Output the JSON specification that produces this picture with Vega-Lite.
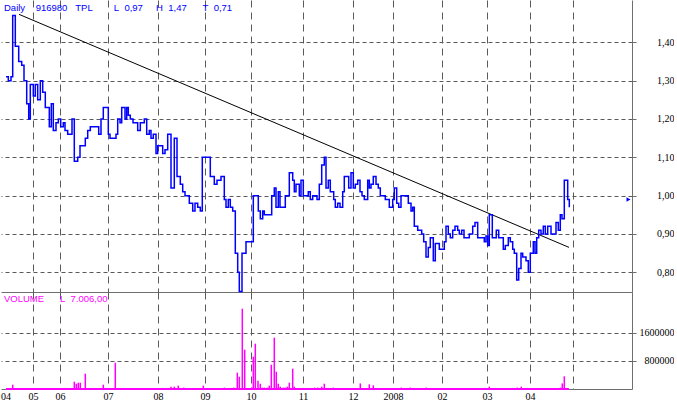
{
  "$schema": "https://vega.github.io/schema/vega-lite/v6.json",
  "padding": 0,
  "background": "white",
  "spacing": 0,
  "bounds": "flush",
  "config": {
    "view": {"stroke": null},
    "font": "Liberation Sans",
    "axis": {
      "labelFont": "Liberation Serif",
      "labelFontSize": 10,
      "labelColor": "black",
      "domainColor": "#6e6e6e",
      "tickColor": "#6e6e6e",
      "gridColor": "#5a5a5a",
      "gridOpacity": 1,
      "title": null,
      "minExtent": 0
    }
  },
  "datasets": {
    "price": [
      {"i":5,"close":1.31},{"i":7.3,"close":1.30},{"i":10,"close":1.31},{"i":11.7,"close":1.47},{"i":14.3,"close":1.39},
      {"i":17.7,"close":1.35},{"i":20.7,"close":1.34},{"i":23,"close":1.30},{"i":25.7,"close":1.24},{"i":27.7,"close":1.20},
      {"i":29.3,"close":1.29},{"i":32.3,"close":1.26},{"i":34.3,"close":1.29},{"i":36.7,"close":1.25},{"i":39.3,"close":1.30},
      {"i":41.7,"close":1.27},{"i":44.3,"close":1.23},{"i":48.3,"close":1.18},{"i":50.3,"close":1.24},{"i":52.3,"close":1.17},
      {"i":55,"close":1.19},{"i":57.3,"close":1.20},{"i":59.7,"close":1.18},{"i":62.3,"close":1.19},{"i":64,"close":1.17},
      {"i":66.7,"close":1.16},{"i":71,"close":1.20},{"i":73.3,"close":1.09},{"i":76.7,"close":1.10},{"i":79,"close":1.13},
      {"i":84.3,"close":1.15},{"i":86.7,"close":1.17},{"i":89.3,"close":1.18},{"i":97.7,"close":1.16},{"i":100,"close":1.20},
      {"i":102.3,"close":1.23},{"i":107.3,"close":1.16},{"i":109,"close":1.15},{"i":115,"close":1.16},{"i":116.7,"close":1.20},
      {"i":119,"close":1.19},{"i":120.7,"close":1.23},{"i":124,"close":1.20},{"i":125.7,"close":1.23},{"i":127.3,"close":1.21},
      {"i":129.3,"close":1.20},{"i":132,"close":1.19},{"i":136.7,"close":1.17},{"i":139.3,"close":1.19},{"i":143.3,"close":1.20},
      {"i":145.7,"close":1.16},{"i":148.3,"close":1.17},{"i":150,"close":1.15},{"i":152.3,"close":1.16},{"i":155,"close":1.11},
      {"i":156.7,"close":1.13},{"i":161.7,"close":1.11},{"i":164,"close":1.12},{"i":166.7,"close":1.16},{"i":170,"close":1.02},
      {"i":173.3,"close":1.15},{"i":176,"close":1.05},{"i":179.3,"close":1.03},{"i":181.7,"close":1.01},{"i":184,"close":1.00},
      {"i":188.3,"close":0.98},{"i":191.7,"close":0.96},{"i":194,"close":0.98},{"i":196.7,"close":0.97},{"i":199.3,"close":0.96},
      {"i":201.3,"close":1.10},{"i":209.3,"close":1.05},{"i":213.3,"close":1.03},{"i":216,"close":1.04},{"i":220,"close":1.05},
      {"i":223.3,"close":0.99},{"i":225,"close":0.97},{"i":227.3,"close":0.99},{"i":229.3,"close":0.97},{"i":231.7,"close":0.96},
      {"i":234.3,"close":0.85},{"i":236.7,"close":0.80},{"i":238.3,"close":0.75},{"i":241,"close":0.85},{"i":245,"close":0.88},
      {"i":252.3,"close":1.00},{"i":257.3,"close":0.96},{"i":259.3,"close":0.94},{"i":261.7,"close":0.96},{"i":263.3,"close":0.95},
      {"i":270.7,"close":1.00},{"i":273.3,"close":1.02},{"i":275,"close":0.97},{"i":277.3,"close":1.01},{"i":279,"close":0.97},
      {"i":284.3,"close":1.00},{"i":288.3,"close":1.06},{"i":291.7,"close":1.04},{"i":293.3,"close":1.01},{"i":295,"close":1.03},
      {"i":298.3,"close":1.00},{"i":300,"close":1.04},{"i":302.3,"close":1.00},{"i":307.3,"close":1.01},{"i":309.3,"close":0.99},
      {"i":311.7,"close":1.00},{"i":316,"close":0.99},{"i":318.3,"close":1.03},{"i":320.7,"close":1.08},{"i":323.3,"close":1.10},
      {"i":325,"close":1.02},{"i":327.3,"close":1.04},{"i":329.3,"close":1.01},{"i":332.7,"close":0.99},{"i":334.3,"close":0.97},
      {"i":336.7,"close":0.98},{"i":339,"close":0.97},{"i":341.7,"close":1.01},{"i":343.3,"close":1.05},{"i":347.7,"close":1.02},
      {"i":350,"close":1.06},{"i":352.3,"close":1.02},{"i":354.3,"close":1.03},{"i":356.7,"close":1.04},{"i":359,"close":1.01},
      {"i":361,"close":1.00},{"i":363.3,"close":0.99},{"i":366.7,"close":1.04},{"i":368.3,"close":1.02},{"i":370,"close":1.03},
      {"i":372.3,"close":1.05},{"i":375,"close":1.03},{"i":377.3,"close":1.02},{"i":379.3,"close":1.00},{"i":384.3,"close":0.99},
      {"i":388.3,"close":0.97},{"i":391.7,"close":0.99},{"i":393.3,"close":1.02},{"i":395.7,"close":0.98},{"i":397.7,"close":0.97},
      {"i":400,"close":1.00},{"i":407.3,"close":0.98},{"i":410,"close":0.96},{"i":411.7,"close":0.97},{"i":413.3,"close":0.92},
      {"i":416.7,"close":0.91},{"i":420.7,"close":0.90},{"i":422.7,"close":0.88},{"i":425,"close":0.84},{"i":427.3,"close":0.865},
      {"i":429.3,"close":0.89},{"i":432.3,"close":0.83},{"i":434.3,"close":0.875},{"i":438.3,"close":0.86},{"i":443.3,"close":0.88},
      {"i":445,"close":0.92},{"i":447.3,"close":0.90},{"i":449.3,"close":0.89},{"i":451.7,"close":0.91},{"i":454,"close":0.92},
      {"i":456.7,"close":0.91},{"i":458.3,"close":0.90},{"i":460.7,"close":0.91},{"i":463,"close":0.89},{"i":468.3,"close":0.90},
      {"i":471.7,"close":0.92},{"i":474,"close":0.93},{"i":476.7,"close":0.89},{"i":483.3,"close":0.88},{"i":485,"close":0.895},
      {"i":486.7,"close":0.87},{"i":488.3,"close":0.95},{"i":491.3,"close":0.89},{"i":495.3,"close":0.91},{"i":497.7,"close":0.89},
      {"i":502.3,"close":0.86},{"i":504.3,"close":0.87},{"i":507.3,"close":0.89},{"i":509.3,"close":0.88},{"i":511.7,"close":0.86},
      {"i":513.3,"close":0.85},{"i":515.7,"close":0.78},{"i":517.7,"close":0.81},{"i":520,"close":0.85},{"i":521.7,"close":0.84},
      {"i":525,"close":0.83},{"i":527.3,"close":0.80},{"i":529.3,"close":0.85},{"i":532.3,"close":0.88},{"i":534,"close":0.85},
      {"i":535.7,"close":0.89},{"i":537.7,"close":0.91},{"i":540,"close":0.90},{"i":542.3,"close":0.92},{"i":544.3,"close":0.90},
      {"i":546.7,"close":0.92},{"i":550,"close":0.90},{"i":555,"close":0.93},{"i":557.3,"close":0.91},{"i":559.3,"close":0.95},
      {"i":561,"close":0.94},{"i":563.3,"close":1.04},{"i":566.7,"close":0.99},{"i":568.3,"close":0.97}
    ],
    "volume": [
      {"i":11.7,"vol":123000},{"i":73.3,"vol":210000},{"i":75.3,"vol":150000},{"i":77.3,"vol":180000},{"i":79.3,"vol":180000},
      {"i":84.3,"vol":437000},{"i":102.3,"vol":123000},{"i":114.3,"vol":751000},{"i":170,"vol":67000},{"i":173.3,"vol":67000},
      {"i":177.3,"vol":95000},{"i":182.7,"vol":40000},{"i":202.3,"vol":95000},{"i":223.3,"vol":40000},{"i":232.7,"vol":40000},
      {"i":236.3,"vol":466000},{"i":238.3,"vol":351000},{"i":241.3,"vol":2294000},{"i":243.7,"vol":1123000},{"i":250.7,"vol":45000},
      {"i":252.3,"vol":923000},{"i":254.3,"vol":1294000},{"i":257,"vol":237000},{"i":259.3,"vol":151000},{"i":261.3,"vol":40000},
      {"i":263.3,"vol":40000},{"i":266.3,"vol":40000},{"i":268.3,"vol":95000},{"i":270.3,"vol":694000},{"i":273.3,"vol":1466000},
      {"i":275.3,"vol":494000},{"i":277.3,"vol":151000},{"i":279.3,"vol":67000},{"i":282.3,"vol":40000},{"i":284.3,"vol":40000},
      {"i":286.3,"vol":67000},{"i":288.3,"vol":180000},{"i":291.7,"vol":580000},{"i":293.3,"vol":67000},{"i":313.7,"vol":40000},
      {"i":316.7,"vol":40000},{"i":320.7,"vol":67000},{"i":323.3,"vol":151000},{"i":332.3,"vol":40000},{"i":359.3,"vol":160000},
      {"i":368.3,"vol":133000},{"i":372.3,"vol":105000},{"i":400.3,"vol":40000},{"i":409.3,"vol":40000},{"i":425.3,"vol":40000},
      {"i":488.3,"vol":67000},{"i":516.3,"vol":40000},{"i":520.3,"vol":67000},{"i":559.3,"vol":40000},{"i":561.3,"vol":160000},
      {"i":563.3,"vol":363000}
    ],
    "trend": [{"i":18,"close":1.473},{"i":568,"close":0.865}],
    "last": [{"i":627.5,"close":0.99}],
    "volbase": [{"i":5,"vol":0},{"i":568,"vol":0}]
  },
  "vconcat": [
    {
      "width": 631,
      "height": 292,
      "title": {
        "text": "Daily\u00a0\u00a0\u00a0\u00a0916980\u00a0\u00a0\u00a0TPL\u00a0\u00a0\u00a0\u00a0\u00a0\u00a0\u00a0\u00a0L\u00a0\u00a00,97\u00a0\u00a0\u00a0\u00a0\u00a0H\u00a0\u00a01,47\u00a0\u00a0\u00a0\u00a0\u00a0\u00a0T\u00a0\u00a00,71",
        "anchor": "start", "frame": "group", "orient": "top",
        "font": "Liberation Sans", "fontSize": 9.5, "fontWeight": "normal",
        "color": "#0000ff", "offset": -10, "baseline": "top", "dx": 3, "dy": 2
      },
      "encoding": {
        "x": {
          "field": "i", "type": "quantitative",
          "scale": {"domain": [0, 631], "nice": false, "zero": false},
          "axis": {
            "orient": "bottom",
            "values": [4.5,32,59,107,157,204,250,302,352,392,441,486,529,572],
            "labels": false, "ticks": false, "domain": true,
            "grid": true, "gridDash": [7,5],
            "gridOpacity": {"condition": {"test": "datum.value < 10", "value": 0}, "value": 1}
          }
        },
        "y": {
          "field": "close", "type": "quantitative",
          "scale": {"domain": [0.7486, 1.5104], "nice": false, "zero": false},
          "axis": {
            "orient": "right",
            "values": [0.8,0.9,1.0,1.1,1.2,1.3,1.4],
            "labelExpr": "replace(format(datum.value,'.2f'),'.',',')",
            "tickSize": 4, "labelAlign": "right", "labelPadding": 38,
            "grid": true, "gridDash": [4,3], "domain": true
          }
        }
      },
      "layer": [
        {"data": {"name": "trend"}, "mark": {"type": "line", "color": "black", "strokeWidth": 1}},
        {"data": {"name": "price"}, "mark": {"type": "line", "interpolate": "step-after", "color": "#0000ff", "strokeWidth": 1.5}},
        {"data": {"name": "last"}, "mark": {"type": "point", "shape": "triangle-right", "filled": true, "color": "#0000ff", "size": 22, "opacity": 1}}
      ]
    },
    {
      "width": 631,
      "height": 97,
      "title": {
        "text": "VOLUME\u00a0\u00a0\u00a0\u00a0\u00a0\u00a0L\u00a0\u00a07.006,00",
        "anchor": "start", "frame": "group", "orient": "top",
        "font": "Liberation Sans", "fontSize": 9.5, "fontWeight": "normal",
        "color": "#ff00ff", "offset": -10, "baseline": "top", "dx": 3, "dy": 1
      },
      "encoding": {
        "x": {
          "field": "i", "type": "quantitative",
          "scale": {"domain": [0, 631], "nice": false, "zero": false},
          "axis": {
            "orient": "bottom",
            "values": [4.5,32,59,107,157,204,250,302,352,392,441,486,529,572],
            "labelExpr": "['04','05','06','07','08','09','10','11','12','2008','02','03','04',''][indexof([4.5,32,59,107,157,204,250,302,352,392,441,486,529,572], datum.value)]",
            "labelOverlap": false, "labelFlush": false, "labelPadding": 2,
            "ticks": false, "domain": true,
            "grid": true, "gridDash": [7,5],
            "gridOpacity": {"condition": {"test": "datum.value < 10", "value": 0}, "value": 1}
          }
        },
        "y": {
          "field": "vol", "type": "quantitative",
          "scale": {"domain": [0, 2771000], "nice": false},
          "axis": {
            "orient": "right",
            "values": [800000, 1600000],
            "labelExpr": "format(datum.value,'d')",
            "tickSize": 4, "labelAlign": "right", "labelPadding": 38,
            "grid": true, "gridDash": [4,3], "domain": true
          }
        }
      },
      "layer": [
        {"data": {"name": "volume"}, "mark": {"type": "rule", "color": "#ff00ff", "strokeWidth": 1.5}, "encoding": {"y2": {"datum": 0}}},
        {"data": {"name": "volbase"}, "mark": {"type": "line", "color": "#ff00ff", "strokeWidth": 2}}
      ]
    }
  ]
}
